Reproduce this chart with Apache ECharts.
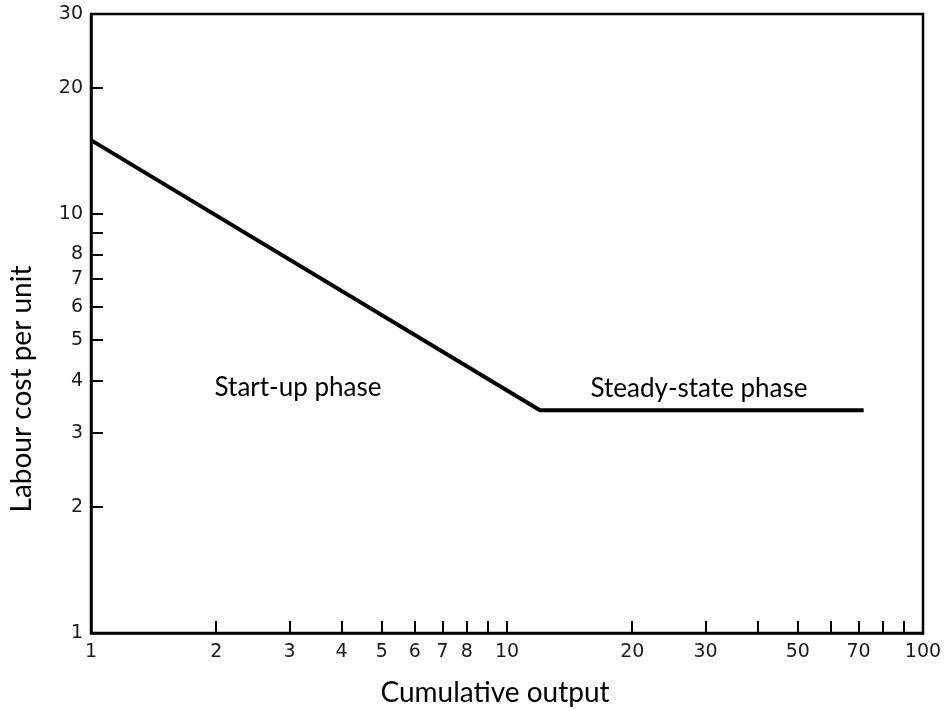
<!DOCTYPE html>
<html><head><meta charset="utf-8">
<script src="https://cdn.jsdelivr.net/npm/echarts@6/dist/echarts.min.js"></script>
<style>html,body{margin:0;padding:0;background:#fff}#c{width:946px;height:711px}</style>
</head><body><div id="c"></div>
<script>
const costCurveX = [1, 12, 72];
const costCurveY = [15, 3.4, 3.4];
const xTickValues = [2,3,4,5,6,7,8,9,10,20,30,40,50,60,70,80,90];
const xLabelValues = [1,2,3,4,5,6,7,8,10,20,30,50,70,100];
const yTickValues = [2,3,4,5,6,7,8,9,10,20];
const yLabelValues = [1,2,3,4,5,6,7,8,10,20,30];
const xTitle = 'Cumulative output';
const yTitle = 'Labour cost per unit';
const phaseLabels = ['Start-up phase', 'Steady-state phase'];

const chart = echarts.init(document.getElementById('c'), null, {renderer: 'canvas'});
const tickFont = {fontFamily: 'DejaVu Sans', fontSize: 19, color: '#1a1a1a'};
const titleFont = {fontFamily: 'Lato', fontSize: 28, fill: '#000'};
chart.setOption({
  animation: false,
  backgroundColor: '#fff',
  grid: {left: 91, right: 23, top: 14, bottom: 78, show: true, borderColor: '#000', borderWidth: 2.5, backgroundColor: 'transparent'},
  xAxis: {
    type: 'log', logBase: 10, min: 1, max: 100,
    axisLine: {lineStyle: {color: '#000', width: 2.5}},
    axisTick: {show: true, inside: true, length: 12, customValues: xTickValues, lineStyle: {color: '#000', width: 2}},
    axisLabel: Object.assign({margin: 10, customValues: xLabelValues}, tickFont),
    splitLine: {show: false}, minorTick: {show: false}
  },
  yAxis: {
    type: 'log', logBase: 10, min: 1, max: 30,
    axisLine: {lineStyle: {color: '#000', width: 2.5}},
    axisTick: {show: true, inside: true, length: 12, customValues: yTickValues, lineStyle: {color: '#000', width: 2}},
    axisLabel: Object.assign({margin: 8, customValues: yLabelValues}, tickFont),
    splitLine: {show: false}, minorTick: {show: false}
  },
  series: [{
    type: 'line', symbol: 'none',
    data: costCurveX.map((x, i) => [x, costCurveY[i]]),
    lineStyle: {color: '#000', width: 4}
  }],
  graphic: [
    {type: 'text', x: 495, y: 693, style: Object.assign({text: xTitle, align: 'center', verticalAlign: 'middle'}, titleFont)},
    {type: 'text', x: 22, y: 389, rotation: Math.PI / 2, style: Object.assign({text: yTitle, align: 'center', verticalAlign: 'middle'}, titleFont)},
    {type: 'text', x: 298, y: 388, style: {text: phaseLabels[0], align: 'center', verticalAlign: 'middle', fontFamily: 'Lato', fontSize: 26, fill: '#000'}},
    {type: 'text', x: 699, y: 389, style: {text: phaseLabels[1], align: 'center', verticalAlign: 'middle', fontFamily: 'Lato', fontSize: 26, fill: '#000'}}
  ]
});
</script></body></html>
